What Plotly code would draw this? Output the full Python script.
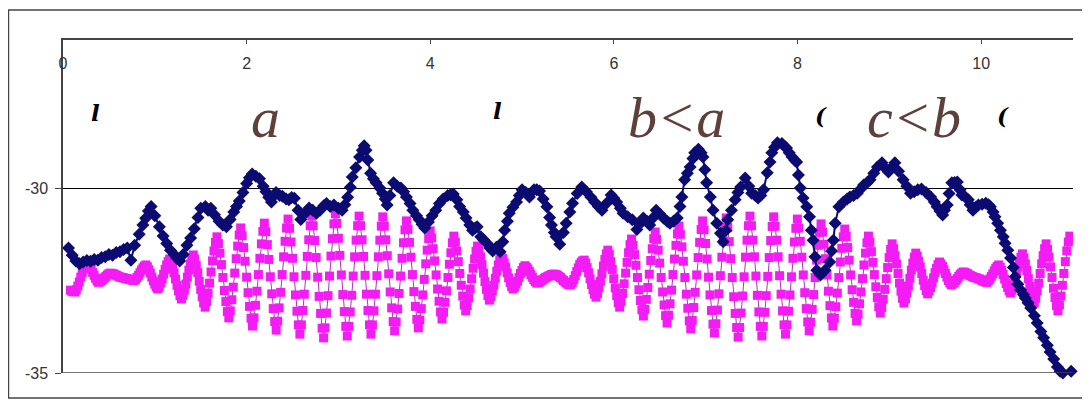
import plotly.graph_objects as go

# ---------------- data ----------------
# magenta series: evenly spaced samples starting at MAG_X0 with step MAG_DX
MAG_X0 = 0.0806
MAG_DX = 0.016125
MAG_Y = [
    -32.76, -32.79, -32.8, -32.81,
    -32.75, -32.65, -32.54, -32.41, -32.28, -32.16, -32.07, -32.0,
    -32.04, -32.11, -32.19, -32.28, -32.36, -32.44, -32.51, -32.55,
    -32.53, -32.5, -32.47, -32.43, -32.39, -32.35, -32.32, -32.3,
    -32.31, -32.32, -32.34, -32.36, -32.38, -32.4, -32.41, -32.42,
    -32.43, -32.44, -32.45, -32.46, -32.47, -32.48, -32.49, -32.5,
    -32.47, -32.42, -32.36, -32.29, -32.22, -32.16, -32.11, -32.08,
    -32.13, -32.21, -32.3, -32.41, -32.51, -32.6, -32.68, -32.73,
    -32.67, -32.57, -32.46, -32.33, -32.2, -32.08, -31.99, -31.92,
    -32.01, -32.14, -32.29, -32.46, -32.63, -32.78, -32.91, -33.0,
    -32.9, -32.76, -32.6, -32.41, -32.22, -32.05, -31.91, -31.81,
    -31.92, -32.09, -32.29, -32.52, -32.74, -32.94, -33.11, -33.22,
    -33.07, -32.84, -32.57, -32.27, -31.97, -31.7, -31.47, -31.32,
    -31.5, -31.76, -32.07, -32.42, -32.77, -33.07, -33.34, -33.51,
    -33.32, -33.02, -32.68, -32.3, -31.91, -31.57, -31.27, -31.08,
    -31.29, -31.61, -31.98, -32.41, -32.83, -33.2, -33.52, -33.73,
    -33.51, -33.17, -32.79, -32.34, -31.9, -31.51, -31.17, -30.95,
    -31.18, -31.53, -31.93, -32.4, -32.86, -33.26, -33.61, -33.84,
    -33.6, -33.24, -32.82, -32.34, -31.86, -31.44, -31.08, -30.84,
    -31.09, -31.46, -31.9, -32.4, -32.89, -33.33, -33.7, -33.95,
    -33.7, -33.31, -32.87, -32.36, -31.85, -31.4, -31.02, -30.76,
    -31.02, -31.42, -31.88, -32.41, -32.93, -33.39, -33.79, -34.05,
    -33.78, -33.38, -32.91, -32.38, -31.84, -31.37, -30.97, -30.7,
    -30.96, -31.36, -31.82, -32.35, -32.88, -33.34, -33.74, -34.0,
    -33.74, -33.35, -32.9, -32.38, -31.86, -31.41, -31.02, -30.76,
    -31.02, -31.4, -31.85, -32.36, -32.87, -33.31, -33.7, -33.95,
    -33.7, -33.32, -32.87, -32.37, -31.86, -31.41, -31.03, -30.78,
    -31.03, -31.4, -31.83, -32.32, -32.81, -33.24, -33.61, -33.86,
    -33.62, -33.27, -32.85, -32.38, -31.9, -31.48, -31.13, -30.89,
    -31.12, -31.47, -31.87, -32.34, -32.8, -33.2, -33.55, -33.78,
    -33.57, -33.26, -32.89, -32.47, -32.05, -31.68, -31.37, -31.16,
    -31.35, -31.64, -31.97, -32.35, -32.73, -33.06, -33.35, -33.54,
    -33.36, -33.09, -32.78, -32.42, -32.06, -31.75, -31.48, -31.3,
    -31.46, -31.7, -31.99, -32.31, -32.63, -32.92, -33.16, -33.32,
    -33.18, -32.97, -32.73, -32.45, -32.17, -31.92, -31.71, -31.57,
    -31.69, -31.86, -32.07, -32.3, -32.53, -32.74, -32.91, -33.03,
    -32.94, -32.79, -32.63, -32.44, -32.25, -32.08, -31.94, -31.84,
    -31.91, -32.02, -32.14, -32.29, -32.43, -32.55, -32.66, -32.73,
    -32.68, -32.6, -32.52, -32.42, -32.31, -32.23, -32.15, -32.1,
    -32.14, -32.19, -32.26, -32.34, -32.41, -32.48, -32.53, -32.57,
    -32.56, -32.54, -32.51, -32.48, -32.45, -32.42, -32.4, -32.38,
    -32.36, -32.34, -32.33, -32.33, -32.34, -32.36, -32.39, -32.42,
    -32.46, -32.5, -32.54, -32.57, -32.6, -32.62, -32.6, -32.55,
    -32.47, -32.37, -32.26, -32.16, -32.07, -32.01, -31.97, -31.95,
    -32.03, -32.15, -32.29, -32.45, -32.61, -32.75, -32.87, -32.95,
    -32.85, -32.7, -32.52, -32.32, -32.11, -31.93, -31.78, -31.68,
    -31.8, -31.99, -32.2, -32.45, -32.7, -32.91, -33.1, -33.22,
    -33.07, -32.85, -32.59, -32.3, -32.01, -31.75, -31.53, -31.38,
    -31.55, -31.8, -32.09, -32.42, -32.75, -33.04, -33.29, -33.46,
    -33.28, -33.01, -32.69, -32.33, -31.96, -31.64, -31.37, -31.19,
    -31.39, -31.68, -32.03, -32.42, -32.81, -33.16, -33.45, -33.65,
    -33.44, -33.13, -32.76, -32.34, -31.92, -31.55, -31.24, -31.03,
    -31.25, -31.59, -31.98, -32.42, -32.87, -33.25, -33.59, -33.81,
    -33.58, -33.23, -32.82, -32.35, -31.88, -31.47, -31.12, -30.89,
    -31.13, -31.5, -31.92, -32.41, -32.89, -33.31, -33.68, -33.92,
    -33.67, -33.3, -32.86, -32.37, -31.87, -31.43, -31.06, -30.81,
    -31.07, -31.45, -31.91, -32.42, -32.94, -33.39, -33.77, -34.03,
    -33.77, -33.38, -32.92, -32.4, -31.87, -31.41, -31.02, -30.76,
    -31.02, -31.41, -31.86, -32.38, -32.9, -33.35, -33.74, -34.0,
    -33.74, -33.36, -32.91, -32.39, -31.88, -31.42, -31.04, -30.78,
    -31.03, -31.41, -31.86, -32.37, -32.87, -33.32, -33.7, -33.95,
    -33.7, -33.33, -32.89, -32.4, -31.9, -31.46, -31.09, -30.84,
    -31.08, -31.44, -31.87, -32.35, -32.83, -33.26, -33.62, -33.86,
    -33.63, -33.28, -32.88, -32.42, -31.95, -31.55, -31.2, -30.97,
    -31.19, -31.52, -31.91, -32.35, -32.79, -33.18, -33.51, -33.73,
    -33.52, -33.21, -32.84, -32.42, -32.0, -31.63, -31.32, -31.11,
    -31.31, -31.61, -31.95, -32.35, -32.75, -33.09, -33.39, -33.59,
    -33.41, -33.13, -32.81, -32.45, -32.08, -31.76, -31.48, -31.3,
    -31.47, -31.72, -32.01, -32.34, -32.67, -32.96, -33.21, -33.38,
    -33.23, -33.01, -32.74, -32.45, -32.15, -31.88, -31.66, -31.51,
    -31.64, -31.83, -32.05, -32.31, -32.57, -32.79, -32.98, -33.11,
    -33.0, -32.84, -32.65, -32.44, -32.22, -32.03, -31.87, -31.76,
    -31.85, -31.98, -32.13, -32.31, -32.49, -32.64, -32.77, -32.86,
    -32.79, -32.69, -32.57, -32.43, -32.29, -32.17, -32.07, -32.0,
    -32.05, -32.12, -32.21, -32.31, -32.41, -32.5, -32.57, -32.62,
    -32.59, -32.55, -32.5, -32.45, -32.39, -32.34, -32.3, -32.27,
    -32.28, -32.3, -32.32, -32.35, -32.37, -32.39, -32.41, -32.42,
    -32.43, -32.45, -32.46, -32.48, -32.51, -32.52, -32.54, -32.55,
    -32.51, -32.46, -32.39, -32.32, -32.24, -32.17, -32.12, -32.08,
    -32.14, -32.23, -32.34, -32.46, -32.58, -32.69, -32.78, -32.84,
    -32.76, -32.63, -32.48, -32.31, -32.14, -31.99, -31.87, -31.78,
    -31.89, -32.05, -32.23, -32.45, -32.66, -32.84, -33.0, -33.11,
    -32.98, -32.79, -32.57, -32.31, -32.05, -31.83, -31.64, -31.51,
    -31.66, -31.87, -32.13, -32.42, -32.71, -32.96, -33.18, -33.32,
    -33.16, -32.92, -32.63, -32.31, -31.99, -31.7, -31.46, -31.3,
    -31.32, -31.4,
]

# navy series (x, y) pairs
NAVY_X = [
    0.06, 0.10, 0.14, 0.18, 0.22, 0.26, 0.30, 0.34, 0.38, 0.42, 0.46, 0.50, 0.54, 0.58, 0.62, 0.66,
    0.70, 0.74, 0.78, 0.83, 0.87, 0.90, 0.93, 0.96, 1.00, 1.05, 1.09, 1.13, 1.17, 1.21, 1.24, 1.27,
    1.31, 1.35, 1.39, 1.43, 1.47, 1.50, 1.55, 1.58, 1.61, 1.65, 1.70, 1.74, 1.78, 1.82, 1.86, 1.89,
    1.92, 1.96, 2.00, 2.03, 2.06, 2.10, 2.14, 2.18, 2.21, 2.24, 2.27, 2.30, 2.32, 2.36, 2.39, 2.43,
    2.46, 2.49, 2.52, 2.56, 2.59, 2.63, 2.68, 2.72, 2.76, 2.80, 2.84, 2.87, 2.91, 2.95, 3.00, 3.04,
    3.07, 3.10, 3.13, 3.15, 3.19, 3.23, 3.26, 3.28, 3.30, 3.32, 3.35, 3.38, 3.41, 3.45, 3.48, 3.51,
    3.53, 3.56, 3.60, 3.64, 3.68, 3.71, 3.74, 3.78, 3.81, 3.85, 3.88, 3.91, 3.94, 3.98, 4.02, 4.06,
    4.10, 4.14, 4.19, 4.22, 4.25, 4.29, 4.32, 4.36, 4.39, 4.43, 4.46, 4.49, 4.51, 4.55, 4.58, 4.62,
    4.65, 4.68, 4.72, 4.76, 4.79, 4.81, 4.84, 4.86, 4.90, 4.94, 4.97, 5.00, 5.04, 5.08, 5.13, 5.16,
    5.19, 5.23, 5.27, 5.30, 5.32, 5.35, 5.37, 5.41, 5.45, 5.48, 5.52, 5.55, 5.60, 5.65, 5.70, 5.75,
    5.79, 5.83, 5.87, 5.92, 5.97, 6.00, 6.03, 6.07, 6.10, 6.15, 6.20, 6.25, 6.29, 6.32, 6.36, 6.39,
    6.43, 6.46, 6.50, 6.54, 6.58, 6.61, 6.65, 6.69, 6.72, 6.74, 6.77, 6.80, 6.83, 6.86, 6.88, 6.92,
    6.95, 6.97, 6.99, 7.01, 7.05, 7.08, 7.12, 7.16, 7.19, 7.22, 7.24, 7.28, 7.32, 7.35, 7.38, 7.43,
    7.47, 7.50, 7.54, 7.57, 7.60, 7.63, 7.67, 7.70, 7.72, 7.75, 7.78, 7.83, 7.86, 7.88, 7.91, 7.94,
    7.97, 7.99, 8.01, 8.03, 8.06, 8.10, 8.13, 8.15, 8.17, 8.19, 8.21, 8.25, 8.30, 8.35, 8.37, 8.39,
    8.41, 8.45, 8.50, 8.54, 8.57, 8.61, 8.65, 8.69, 8.72, 8.76, 8.79, 8.83, 8.87, 8.92, 8.95, 8.99,
    9.02, 9.06, 9.10, 9.15, 9.19, 9.23, 9.27, 9.31, 9.35, 9.40, 9.45, 9.49, 9.52, 9.55, 9.58, 9.60,
    9.63, 9.65, 9.68, 9.71, 9.74, 9.77, 9.79, 9.83, 9.86, 9.88, 9.91, 9.94, 9.97, 10.01, 10.05, 10.08,
    10.10, 10.13, 10.15, 10.18, 10.21, 10.24, 10.26, 10.29, 10.32, 10.35, 10.37, 10.40, 10.43, 10.46,
    10.48, 10.51, 10.54, 10.58, 10.61, 10.65, 10.68, 10.72, 10.75, 10.79, 10.83, 10.86, 10.89, 10.98,
]
NAVY_Y = [
    -31.62, -31.82, -31.97, -32.05, -32.0, -31.96, -31.98, -31.93, -31.95, -31.88, -31.86, -31.8, -31.82, -31.74, -31.72, -31.66,
    -31.62, -31.95, -31.55, -31.25, -31.0, -30.82, -30.62, -30.5, -30.75, -31.05, -31.3, -31.5, -31.68, -31.8, -31.9, -31.97,
    -31.8, -31.55, -31.35, -31.1, -30.8, -30.55, -30.5, -30.6, -30.55, -30.72, -30.9, -31.0, -31.05, -30.85, -30.65, -30.5,
    -30.35, -30.12, -29.88, -29.72, -29.62, -29.68, -29.75, -29.95, -30.1, -30.25, -30.38, -30.2, -30.12, -30.2, -30.22, -30.3,
    -30.32, -30.26, -30.28, -30.6, -30.85, -30.7, -30.54, -30.6, -30.68, -30.6, -30.48, -30.42, -30.5, -30.46, -30.55, -30.6,
    -30.45, -30.25, -29.98, -29.7, -29.45, -29.16, -28.98, -28.86, -28.98, -29.24, -29.6, -29.75, -29.86, -30.0, -30.14, -30.3,
    -30.46, -30.2, -29.86, -29.95, -30.0, -30.1, -30.24, -30.42, -30.6, -30.75, -30.86, -30.98, -31.08, -30.92, -30.75, -30.6,
    -30.42, -30.3, -30.2, -30.18, -30.16, -30.32, -30.5, -30.65, -30.81, -31.0, -31.14, -31.08, -31.05, -31.32, -31.4, -31.5,
    -31.62, -31.7, -31.6, -31.72, -31.45, -31.14, -30.9, -30.68, -30.52, -30.38, -30.2, -30.05, -30.12, -30.24, -30.05, -30.05,
    -30.08, -30.3, -30.51, -30.8, -31.0, -31.2, -31.32, -31.52, -31.2, -30.95, -30.65, -30.41, -30.15, -29.97, -30.1, -30.25,
    -30.38, -30.5, -30.6, -30.41, -30.19, -30.28, -30.38, -30.55, -30.68, -30.78, -30.86, -31.12, -30.95, -30.81, -30.9, -31.0,
    -30.8, -30.6, -30.7, -30.81, -30.9, -30.95, -30.9, -30.81, -30.5, -30.24, -29.78, -29.6, -29.43, -29.2, -29.05, -28.95,
    -29.05, -29.16, -29.51, -29.86, -30.24, -30.6, -30.95, -31.22, -31.45, -31.15, -30.86, -30.6, -30.32, -30.12, -29.97, -29.73,
    -29.95, -30.14, -30.2, -30.27, -30.2, -30.05, -29.59, -29.3, -29.05, -28.9, -28.78, -28.8, -28.88, -28.92, -29.05, -29.16,
    -29.25, -29.3, -29.65, -30.0, -30.27, -30.51, -30.78, -31.14, -31.41, -31.86, -32.22, -32.35, -32.22, -32.0, -31.7, -31.41,
    -30.95, -30.51, -30.38, -30.3, -30.24, -30.2, -30.14, -30.02, -29.92, -29.85, -29.78, -29.6, -29.43, -29.32, -29.45, -29.57,
    -29.45, -29.32, -29.55, -29.78, -29.95, -30.14, -30.1, -30.05, -30.03, -30.12, -30.24, -30.38, -30.51, -30.62, -30.73, -30.6,
    -30.46, -30.15, -29.86, -29.85, -29.84, -30.05, -30.19, -30.25, -30.32, -30.45, -30.6, -30.52, -30.46, -30.44, -30.41, -30.45,
    -30.51, -30.65, -30.78, -30.95, -31.14, -31.32, -31.49, -31.68, -31.89, -32.15, -32.4, -32.6, -32.76, -32.88,
    -32.97, -33.1, -33.24, -33.45, -33.65, -33.88, -34.05, -34.25, -34.43, -34.62, -34.84, -34.95, -35.0, -34.95,
]

X_TICKS = [0, 2, 4, 6, 8, 10]
Y_TICKS = [-35, -30]
Y_TICK_TEXT = ["-35", "-30"]

LABEL_TEXT = ["a", "b&lt;a", "c&lt;b"]
LABEL_X = [2.2, 6.68, 9.27]
LABEL_Y = [-28.1, -28.1, -28.1]

MARK_TEXT = ["l", "l", "(", "("]
MARK_X = [0.35, 4.73, 8.26, 10.24]
MARK_Y = [-27.97, -27.9, -28.03, -28.03]

# ---------------- figure ----------------
# (the page body has an 8px margin, so the figure is sized to fit the 1090x401 window)
mag_x = [MAG_X0 + k * MAG_DX for k in range(len(MAG_Y))]

fig = go.Figure()
fig.add_trace(go.Scatter(
    x=mag_x, y=MAG_Y, mode="lines+markers",
    line=dict(color="#b532b5", width=1),
    marker=dict(symbol="square", size=9, color="#f41cf4", line=dict(width=0)),
    hoverinfo="skip",
))
fig.add_trace(go.Scatter(
    x=NAVY_X, y=NAVY_Y, mode="lines+markers",
    line=dict(color="#0b0b72", width=2),
    marker=dict(symbol="diamond", size=10, color="#0b0b72", line=dict(width=0)),
    cliponaxis=False, hoverinfo="skip",
))

annotations = []
for t, x, y in zip(LABEL_TEXT, LABEL_X, LABEL_Y):
    annotations.append(dict(
        x=x, y=y, xref="x", yref="y", text="<i>" + t + "</i>", showarrow=False,
        font=dict(family="Liberation Serif, DejaVu Serif, serif", size=58, color="#5f3f3b"),
        xanchor="center", yanchor="middle",
    ))
for t, x, y in zip(MARK_TEXT, MARK_X, MARK_Y):
    annotations.append(dict(
        x=x, y=y, xref="x", yref="y", text="<b><i>" + t + "</i></b>", showarrow=False,
        font=dict(family="DejaVu Serif, serif", size=23, color="#000000"),
        xanchor="center", yanchor="middle",
    ))

shapes = [
    # outer chart border
    dict(type="rect", xref="paper", yref="paper", x0=-0.054, x1=1.0153, y0=-0.075, y1=1.0901,
         line=dict(color="#444444", width=1.5), fillcolor="rgba(0,0,0,0)", layer="below"),
    # bottom line at -35
    dict(type="line", xref="paper", yref="y", x0=0, x1=1, y0=-35, y1=-35,
         line=dict(color="#444444", width=1.5)),
]

fig.update_layout(
    width=1082, height=393,
    margin=dict(l=55, r=17, t=32, b=28),
    paper_bgcolor="white", plot_bgcolor="white",
    showlegend=False,
    annotations=annotations,
    shapes=shapes,
    font=dict(family="Liberation Sans, Arial, sans-serif", size=16, color="#333333"),
    xaxis=dict(
        range=[0, 11], side="top", tickvals=X_TICKS,
        showline=True, linecolor="#444444", linewidth=1.5,
        ticks="inside", ticklen=4, tickcolor="#444444", tickwidth=1,
        ticklabelposition="inside", ticklabeloverflow="allow",
        ticklabelstandoff=14,
        showgrid=False, zeroline=False,
        tickfont=dict(size=16, color="#333333"),
    ),
    yaxis=dict(
        range=[-35, -26], tickvals=Y_TICKS, ticktext=Y_TICK_TEXT,
        showline=True, linecolor="#444444", linewidth=1.5,
        ticks="outside", ticklen=6, tickcolor="#444444",
        ticklabelstandoff=4,
        showgrid=True, gridcolor="#000000", gridwidth=1,
        zeroline=False,
        tickfont=dict(size=16, color="#333333"),
    ),
)

fig.write_html("out.html")
